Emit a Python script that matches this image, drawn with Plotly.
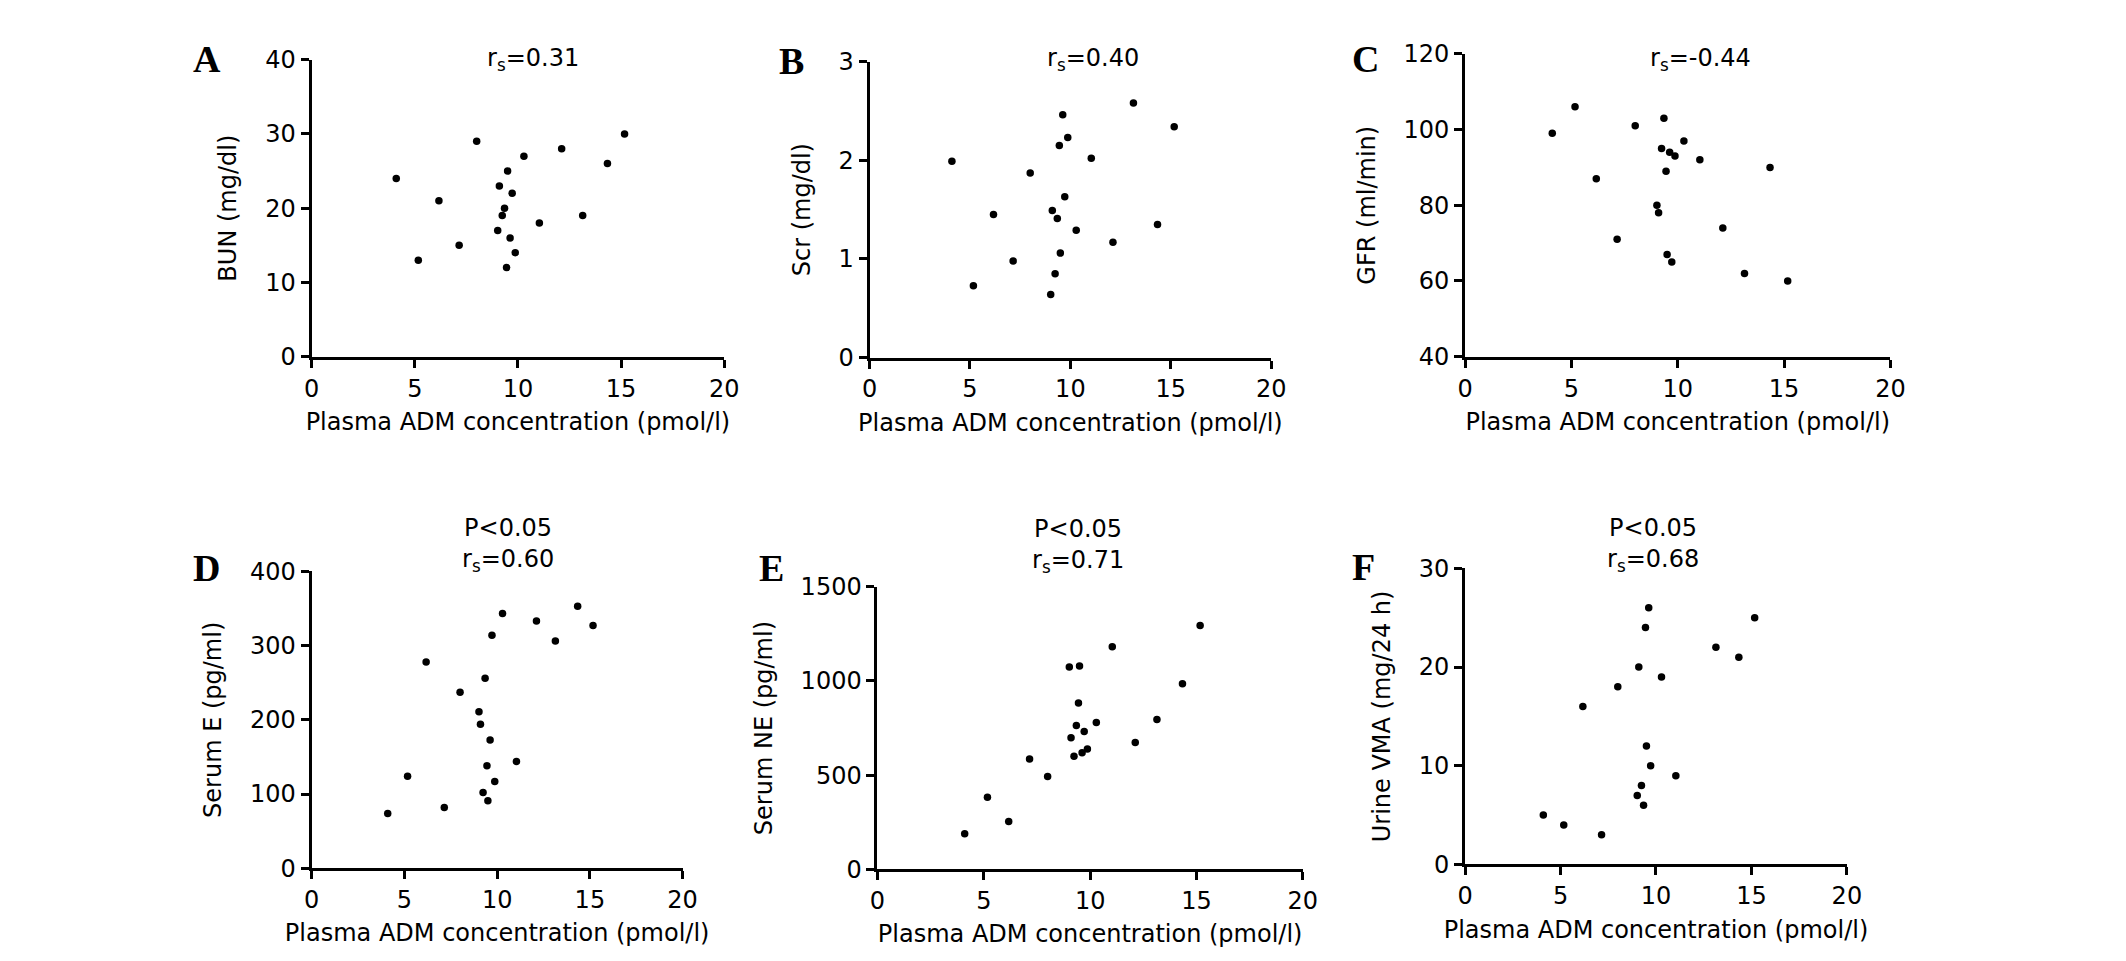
import plotly.graph_objects as go

# plasma ADM (pmol/l) for the 20 patients, shared by panels A-E
adm = [4.1, 5.17, 6.17, 7.15, 8.0, 9.02, 9.1, 9.24, 9.35, 9.45,
       9.5, 9.62, 9.72, 9.87, 10.29, 11.04, 12.12, 13.14, 14.34, 15.17]
# panel F shows only 18 points
adm_f = [4.1, 5.17, 6.17, 7.15, 8.0, 9.02, 9.1, 9.24, 9.35, 9.45,
         9.5, 9.62, 9.72, 10.29, 11.04, 13.14, 14.34, 15.17]

bun = [24, 13, 21, 15, 29, 17, 23, 19, 20, 12, 25, 16, 22, 14, 27, 18, 28, 19, 26, 30]
scr = [1.99, 0.73, 1.45, 0.98, 1.87, 0.64, 1.49, 0.85, 1.41, 2.15,
       1.06, 2.46, 1.63, 2.23, 1.29, 2.02, 1.17, 2.58, 1.35, 2.34]
gfr = [99, 106, 87, 71, 101, 80, 78, 95, 103, 89, 67, 94, 65, 93, 97, 92, 74, 62, 90, 60]
serum_e = [74, 124, 278, 82, 237, 211, 194, 102, 256, 138,
           91, 173, 314, 117, 343, 144, 333, 306, 353, 327]
serum_ne = [189, 383, 254, 586, 493, 1074, 699, 600, 763, 883,
            1079, 619, 732, 639, 780, 1182, 674, 796, 985, 1294]
urine_vma = [5, 4, 16, 3, 18, 7, 20, 8, 6, 24, 12, 26, 10, 19, 9, 22, 21, 25]

x_title = "Plasma ADM concentration (pmol/l)"

W, H = 2126, 961
FONT = "DejaVu Sans"


def xdom(left, right):
    return [left / W, right / W]


def ydom(top, bottom):
    return [1 - bottom / H, 1 - top / H]


# box = (left, right, top, bottom) of each plot area, in pixels
panels = [
    dict(letter="A", x=adm, y=bun, ytitle="BUN (mg/dl)", yrange=[0, 40], dtick=10,
         box=(307, 724, 47, 353), note="r<sub>s</sub>=0.31", note_at=(531, 47), letter_at=(201, 46)),
    dict(letter="B", x=adm, y=scr, ytitle="Scr (mg/dl)", yrange=[0, 3], dtick=1,
         box=(871, 1277, 49, 354), note="r<sub>s</sub>=0.40", note_at=(1097, 47), letter_at=(792, 48)),
    dict(letter="C", x=adm, y=gfr, ytitle="GFR (ml/min)", yrange=[40, 120], dtick=20,
         box=(1473, 1903, 41, 353), note="r<sub>s</sub>=-0.44", note_at=(1711, 47), letter_at=(1372, 46)),
    dict(letter="D", x=adm, y=serum_e, ytitle="Serum E (pg/ml)", yrange=[0, 400], dtick=100,
         box=(307, 682, 574, 880), note="P<0.05<br>r<sub>s</sub>=0.60", note_at=(505, 547), letter_at=(201, 571)),
    dict(letter="E", x=adm, y=serum_ne, ytitle="Serum NE (pg/ml)", yrange=[0, 1500], dtick=500,
         box=(879, 1309, 590, 881), note="P<0.05<br>r<sub>s</sub>=0.71", note_at=(1082, 548), letter_at=(772, 571)),
    dict(letter="F", x=adm_f, y=urine_vma, ytitle="Urine VMA (mg/24 h)", yrange=[0, 30], dtick=10,
         box=(1473, 1859, 571, 876), note="P<0.05<br>r<sub>s</sub>=0.68", note_at=(1663, 547), letter_at=(1370, 570)),
]

axis_style = dict(
    showline=True, linecolor="black", linewidth=3,
    ticks="outside", ticklen=8, tickwidth=2.5, tickcolor="black",
    showgrid=False, zeroline=False, automargin=True,
    tickfont=dict(family=FONT, size=24, color="black"),
)
title_font = dict(family=FONT, size=24, color="black")

fig = go.Figure()
annotations = []
for i, p in enumerate(panels, start=1):
    sfx = "" if i == 1 else str(i)
    left, right, top, bottom = p["box"]
    fig.add_trace(go.Scatter(
        x=p["x"], y=p["y"], mode="markers",
        marker=dict(size=7.5, color="black"),
        xaxis="x" + sfx, yaxis="y" + sfx, showlegend=False,
    ))
    fig.update_layout(**{
        "xaxis" + sfx: dict(domain=xdom(left, right), range=[0, 20], tick0=0, dtick=5,
                            anchor="y" + sfx,
                            title=dict(text=x_title, font=title_font, standoff=12),
                            **axis_style),
        "yaxis" + sfx: dict(domain=ydom(top, bottom), range=p["yrange"], tick0=p["yrange"][0],
                            dtick=p["dtick"], anchor="x" + sfx,
                            title=dict(text=p["ytitle"], font=title_font, standoff=22),
                            **axis_style),
    })
    nx, ny = p["note_at"]
    annotations.append(dict(text=p["note"], x=nx / W, y=1 - ny / H, xref="paper", yref="paper",
                            xanchor="center", yanchor="middle", showarrow=False,
                            font=dict(family=FONT, size=24, color="black")))
    lx, ly = p["letter_at"]
    annotations.append(dict(text=p["letter"], x=lx / W, y=1 - ly / H,
                            xref="paper", yref="paper", xanchor="center", yanchor="middle",
                            showarrow=False,
                            font=dict(family="Liberation Serif", size=38, weight="bold",
                                      color="black")))

fig.update_layout(
    width=W, height=H,
    margin=dict(l=0, r=0, t=0, b=0),
    paper_bgcolor="white", plot_bgcolor="white",
    annotations=annotations,
    showlegend=False,
)

# drop the default 8px body margin so the figure sits at the page corner
fig.write_html("out.html", config={"displayModeBar": False},
               post_script="document.body.style.margin='0px';")
